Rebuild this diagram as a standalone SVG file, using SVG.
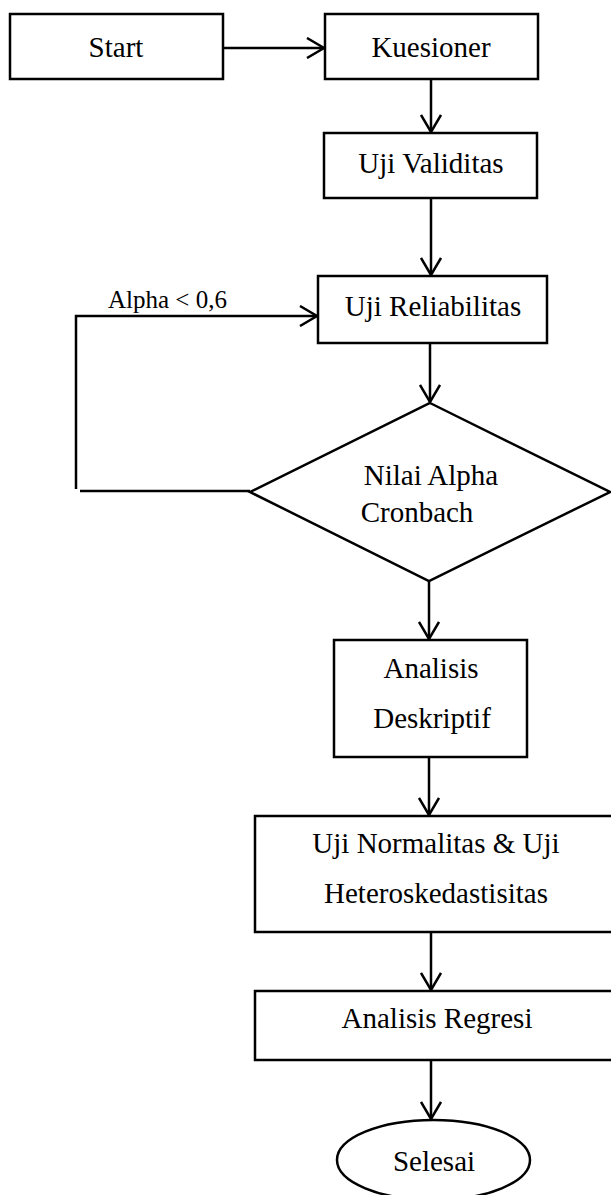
<svg xmlns="http://www.w3.org/2000/svg" width="611" height="1195" viewBox="0 0 611 1195">
<style>
.box{fill:#fff;stroke:#000;stroke-width:2.5}
.ln{fill:none;stroke:#000;stroke-width:2.5}
.t{font-family:"Liberation Serif","Times New Roman",serif;font-size:29px;fill:#000;text-anchor:middle}
.lbl{font-family:"Liberation Serif","Times New Roman",serif;font-size:25px;fill:#000}
</style>
<defs>
<marker id="arr" viewBox="0 0 20 22" refX="18" refY="11" markerWidth="20" markerHeight="22" markerUnits="userSpaceOnUse" orient="auto">
<path d="M1,1 L18,11 L1,21" fill="none" stroke="#000" stroke-width="2.5"/>
</marker>
</defs>
<rect width="611" height="1195" fill="#fff"/>
<g id="connectors">
<line class="ln" x1="223" y1="48" x2="324" y2="48" marker-end="url(#arr)"/>
<line class="ln" x1="431" y1="79" x2="431" y2="132" marker-end="url(#arr)"/>
<line class="ln" x1="431" y1="198" x2="431" y2="275" marker-end="url(#arr)"/>
<line class="ln" x1="430" y1="343" x2="430" y2="402" marker-end="url(#arr)"/>
<polyline class="ln" points="76,489 76,316 317,316" marker-end="url(#arr)"/>
<line class="ln" x1="80" y1="491" x2="250" y2="491"/>
<line class="ln" x1="429" y1="581" x2="429" y2="639" marker-end="url(#arr)"/>
<line class="ln" x1="429" y1="757" x2="429" y2="815" marker-end="url(#arr)"/>
<line class="ln" x1="431" y1="932" x2="431" y2="990" marker-end="url(#arr)"/>
<line class="ln" x1="431" y1="1060" x2="431" y2="1119" marker-end="url(#arr)"/>
<text class="lbl" x="108" y="308">Alpha &lt; 0,6</text>
</g>
<g id="start">
<rect class="box" x="10" y="14" width="213" height="65"/>
<text class="t" x="116" y="57">Start</text>
</g>
<g id="kuesioner">
<rect class="box" x="325" y="14" width="213" height="65"/>
<text class="t" x="431" y="57">Kuesioner</text>
</g>
<g id="validitas">
<rect class="box" x="324" y="133" width="213" height="65"/>
<text class="t" x="431" y="173">Uji Validitas</text>
</g>
<g id="reliabilitas">
<rect class="box" x="318" y="276" width="229" height="67"/>
<text class="t" x="433" y="316">Uji Reliabilitas</text>
</g>
<g id="cronbach">
<polygon class="box" points="430,403 610,492 429,581 250,492"/>
<text class="t" x="431" y="485">Nilai Alpha</text>
<text class="t" x="417" y="522">Cronbach</text>
</g>
<g id="deskriptif">
<rect class="box" x="334" y="640" width="193" height="117"/>
<text class="t" x="431" y="678">Analisis</text>
<text class="t" x="432" y="728">Deskriptif</text>
</g>
<g id="normalitas">
<rect class="box" x="255" y="816" width="370" height="116"/>
<text class="t" x="436" y="853">Uji Normalitas &amp; Uji</text>
<text class="t" x="436" y="903">Heteroskedastisitas</text>
</g>
<g id="regresi">
<rect class="box" x="255" y="991" width="370" height="69"/>
<text class="t" x="437" y="1028">Analisis Regresi</text>
</g>
<g id="selesai">
<ellipse class="box" cx="433.5" cy="1160" rx="96.5" ry="40"/>
<text class="t" x="434" y="1171">Selesai</text>
</g>
</svg>
